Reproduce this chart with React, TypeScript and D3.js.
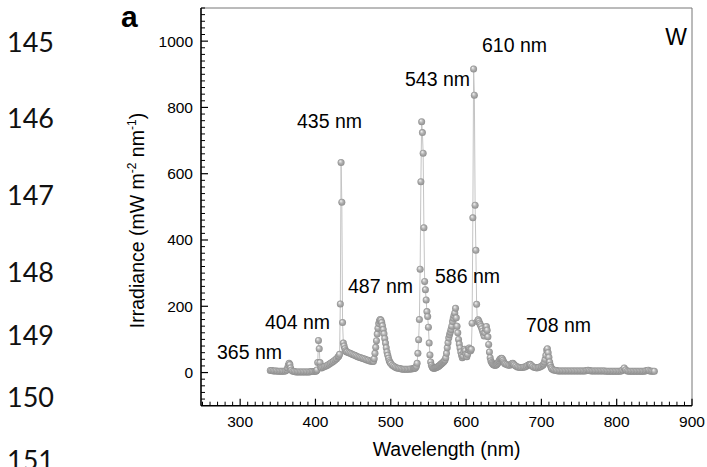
import React from 'react';
import * as d3 from 'd3';

// irradiance spectrum, [wavelength nm, mW m-2 nm-1]
const uvBand: [number, number][] = [
  [340, 6], [342, 6], [344, 5], [346, 5], [348, 5], [350, 4], [352, 4], [354, 4], [356, 4], [358, 4],
  [360, 5], [362, 8], [363, 14], [364, 22], [365, 28], [366, 24], [367, 14], [368, 7], [370, 4],
  [372, 3], [374, 2], [376, 2], [378, 2], [380, 2], [382, 2], [384, 2], [386, 2], [388, 2], [390, 2],
  [392, 2], [394, 3], [396, 3], [398, 3], [400, 4],
];

const violetBand: [number, number][] = [
  [401, 5], [402, 8], [403, 30], [404, 97], [405, 72], [406, 30], [407, 16], [408, 14], [410, 16],
  [412, 18], [414, 20], [416, 22], [418, 25], [420, 28], [422, 31], [424, 34], [426, 38], [428, 42],
  [430, 47], [431, 50], [432, 55], [433, 207], [434, 634], [435, 514], [436, 151], [437, 89], [438, 80],
  [439, 72], [440, 66],
];

const blueBand: [number, number][] = [
  [441, 63], [442, 62], [444, 60], [446, 58], [448, 56], [450, 54], [452, 52], [454, 50], [456, 48],
  [458, 46], [460, 45], [462, 43], [464, 42], [466, 40], [468, 38], [470, 37], [472, 35], [474, 34],
  [476, 33], [477, 34], [478, 42], [479, 58], [480, 76], [481, 96], [482, 116], [483, 134], [484, 148],
  [485, 156], [486, 160], [487, 158], [488, 151], [489, 141], [490, 130], [491, 117], [492, 103],
  [493, 89], [494, 75], [495, 62], [496, 52], [497, 43], [498, 36], [499, 31], [500, 27], [502, 22],
  [504, 19], [506, 16], [508, 14], [510, 13], [512, 12], [514, 11], [516, 10], [518, 10], [520, 10],
  [522, 10], [524, 10], [526, 11], [528, 11], [530, 12],
];

const greenBand: [number, number][] = [
  [531, 12], [532, 13], [533, 15], [534, 19], [535, 28], [536, 58], [537, 99], [538, 160], [539, 312],
  [540, 576], [541, 757], [542, 724], [543, 662], [544, 437], [545, 275], [546, 250], [547, 219],
  [548, 184], [549, 169], [550, 137], [551, 89], [552, 53], [553, 32], [554, 22], [555, 17], [556, 14],
  [557, 13], [558, 13], [559, 14], [560, 15],
];

const orangeBand: [number, number][] = [
  [561, 16], [562, 17], [563, 18], [564, 20], [565, 22], [566, 24], [567, 26], [568, 28], [569, 30],
  [570, 32], [571, 35], [572, 38], [573, 45], [574, 58], [575, 75], [576, 90], [577, 104], [578, 114],
  [579, 122], [580, 130], [581, 140], [582, 154], [583, 164], [584, 172], [585, 180], [586, 194],
  [587, 165], [588, 140], [589, 120], [590, 100], [591, 86], [592, 74], [593, 62], [594, 52], [595, 45],
  [596, 50], [597, 62], [598, 70], [599, 66], [600, 55], [601, 48], [602, 55], [603, 68], [604, 74],
  [605, 70], [606, 66], [607, 70],
];

const redBand: [number, number][] = [
  [608, 149], [609, 467], [610, 916], [611, 837], [612, 505], [613, 369], [614, 206], [615, 154],
  [616, 159], [617, 155], [618, 149], [619, 144], [620, 139], [621, 132], [622, 125], [623, 118],
  [624, 110], [625, 120], [626, 132], [627, 139], [628, 128], [629, 108], [630, 85], [631, 62],
  [632, 45], [633, 35], [634, 30], [635, 27], [636, 24], [637, 23], [638, 22], [639, 22], [640, 23],
  [641, 25], [642, 28], [643, 32], [644, 36], [645, 40], [646, 42], [647, 43], [648, 42], [649, 37],
  [650, 32], [651, 28], [652, 26], [654, 24], [656, 22], [658, 22], [660, 24], [661, 27], [662, 28],
  [663, 26], [664, 23], [666, 20], [668, 17], [670, 16], [672, 15], [674, 15], [676, 16], [678, 17],
  [680, 19], [682, 22], [684, 24], [685, 25], [686, 23], [688, 19], [690, 16], [692, 15], [694, 14],
  [696, 15], [698, 17], [700, 19], [702, 22], [703, 26], [704, 32], [705, 40], [706, 52], [707, 68],
  [708, 72], [709, 60], [710, 46], [711, 32], [712, 22], [713, 15], [714, 11], [716, 8], [718, 7],
  [720, 6],
];

const nirBand: [number, number][] = [
  [722, 5], [724, 5], [726, 5], [728, 5], [730, 5], [732, 5], [734, 5], [736, 5], [738, 5], [740, 5],
  [742, 5], [744, 5], [746, 5], [748, 5], [750, 5], [752, 5], [754, 5], [756, 5], [758, 5], [760, 6],
  [762, 7], [764, 6], [766, 5], [768, 5], [770, 5], [772, 5], [774, 5], [776, 5], [778, 5], [780, 5],
  [782, 5], [784, 5], [786, 4], [788, 4], [790, 4], [792, 4], [794, 4], [796, 4], [798, 4], [800, 4],
  [802, 4], [804, 4], [806, 5], [808, 8], [810, 14], [812, 8], [814, 5], [816, 4], [818, 4], [820, 4],
  [822, 4], [824, 4], [826, 4], [828, 4], [830, 4], [832, 4], [834, 4], [836, 4], [838, 5], [840, 6],
  [842, 7], [844, 5], [846, 4], [848, 4], [850, 4],
];

const peakLabels = ['365 nm', '404 nm', '435 nm', '487 nm', '543 nm', '586 nm', '610 nm', '708 nm'];
const xTicks = [300, 400, 500, 600, 700, 800, 900];
const yTicks = [0, 200, 400, 600, 800, 1000];
const lineNumbers = ['145', '146', '147', '148', '149', '150', '151'];

const spectrum = [...uvBand, ...violetBand, ...blueBand, ...greenBand, ...orangeBand, ...redBand, ...nirBand];

const W = 707;
const H = 467;
const left = 201, right = 692, top = 8, bottom = 405.7;

const font = '"Liberation Sans", Arial, sans-serif';

// label anchors (left x, baseline y) in pixels
const labelPos: [number, number][] = [
  [217, 359], [265, 329], [297, 128], [348, 293], [405, 86], [435, 283], [482, 52], [526, 332],
];
const lineNumberY = [52, 128, 205, 282, 345, 407, 470];

export default function App() {
  const x = d3.scaleLinear().domain([248, 900]).range([left, right]);
  const y = d3.scaleLinear().domain([-100, 1100]).range([bottom, top]);

  const line = d3.line<[number, number]>().x(d => x(d[0])).y(d => y(d[1]));
  const xMinor = d3.range(250, 901, 10).filter(v => !xTicks.includes(v));
  const yMinor = d3.range(-80, 1101, 20).filter(v => !yTicks.includes(v));

  return (
    <svg width={W} height={H} style={{ position: 'absolute', left: 0, top: 0, background: '#fff' }}>
      <defs>
        <radialGradient id="ball" cx="50%" cy="50%" r="50%" fx="35%" fy="30%">
          <stop offset="0%" stopColor="#f6f6f6" />
          <stop offset="50%" stopColor="#b4b4b4" />
          <stop offset="100%" stopColor="#8e8e8e" />
        </radialGradient>
      </defs>

      {lineNumbers.map((t, i) => (
        <text key={t} x={7} y={lineNumberY[i]} fontFamily="Lato, 'Noto Sans', sans-serif" fontSize={27} fill="#111">{t}</text>
      ))}

      <text x={121} y={27} fontFamily={font} fontWeight="bold" fontSize={30} fill="#000">a</text>

      {/* frame */}
      <line x1={left} x2={right} y1={top} y2={top} stroke="#777" strokeWidth={1} />
      <line x1={right} x2={right} y1={top} y2={bottom} stroke="#777" strokeWidth={1} />

      {/* data */}
      <path d={line(spectrum) || ''} fill="none" stroke="#c4c4c4" strokeWidth={1} />
      {spectrum.map((d, i) => (
        <circle key={i} cx={x(d[0])} cy={y(d[1])} r={3.5} fill="url(#ball)" />
      ))}

      {/* axes */}
      <line x1={left} x2={left} y1={top} y2={bottom} stroke="#000" strokeWidth={1.6} />
      <line x1={left} x2={right} y1={bottom} y2={bottom} stroke="#000" strokeWidth={1.6} />
      {xTicks.map(t => (
        <g key={t}>
          <line x1={x(t)} x2={x(t)} y1={bottom} y2={bottom - 7} stroke="#000" strokeWidth={1.2} />
          <text x={x(t)} y={427} textAnchor="middle" fontFamily={font} fontSize={15.5}>{t}</text>
        </g>
      ))}
      {xMinor.map(t => (
        <line key={t} x1={x(t)} x2={x(t)} y1={bottom} y2={bottom - 4} stroke="#000" strokeWidth={1} />
      ))}
      {yTicks.map(t => (
        <g key={t}>
          <line x1={left} x2={left + 7} y1={y(t)} y2={y(t)} stroke="#000" strokeWidth={1.2} />
          <text x={193} y={y(t) + 5.5} textAnchor="end" fontFamily={font} fontSize={15.5}>{t}</text>
        </g>
      ))}
      {yMinor.map(t => (
        <line key={t} x1={left} x2={left + 4} y1={y(t)} y2={y(t)} stroke="#000" strokeWidth={1} />
      ))}

      <text x={(left + right) / 2} y={456} textAnchor="middle" fontFamily={font} fontSize={19.5}>Wavelength (nm)</text>
      <text transform="translate(143.5,220.5) rotate(-90)" textAnchor="middle" fontFamily={font} fontSize={19.5}>
        Irradiance (mW m<tspan fontSize={12} dy={-8}>-2</tspan><tspan dy={8}> nm</tspan><tspan fontSize={12} dy={-8}>-1</tspan><tspan dy={8}>)</tspan>
      </text>

      {peakLabels.map((t, i) => (
        <text key={t} x={labelPos[i][0]} y={labelPos[i][1]} fontFamily={font} fontSize={19.5} fill="#000">{t}</text>
      ))}
      <text x={687} y={45} textAnchor="end" fontFamily={font} fontSize={23}>W</text>
    </svg>
  );
}
